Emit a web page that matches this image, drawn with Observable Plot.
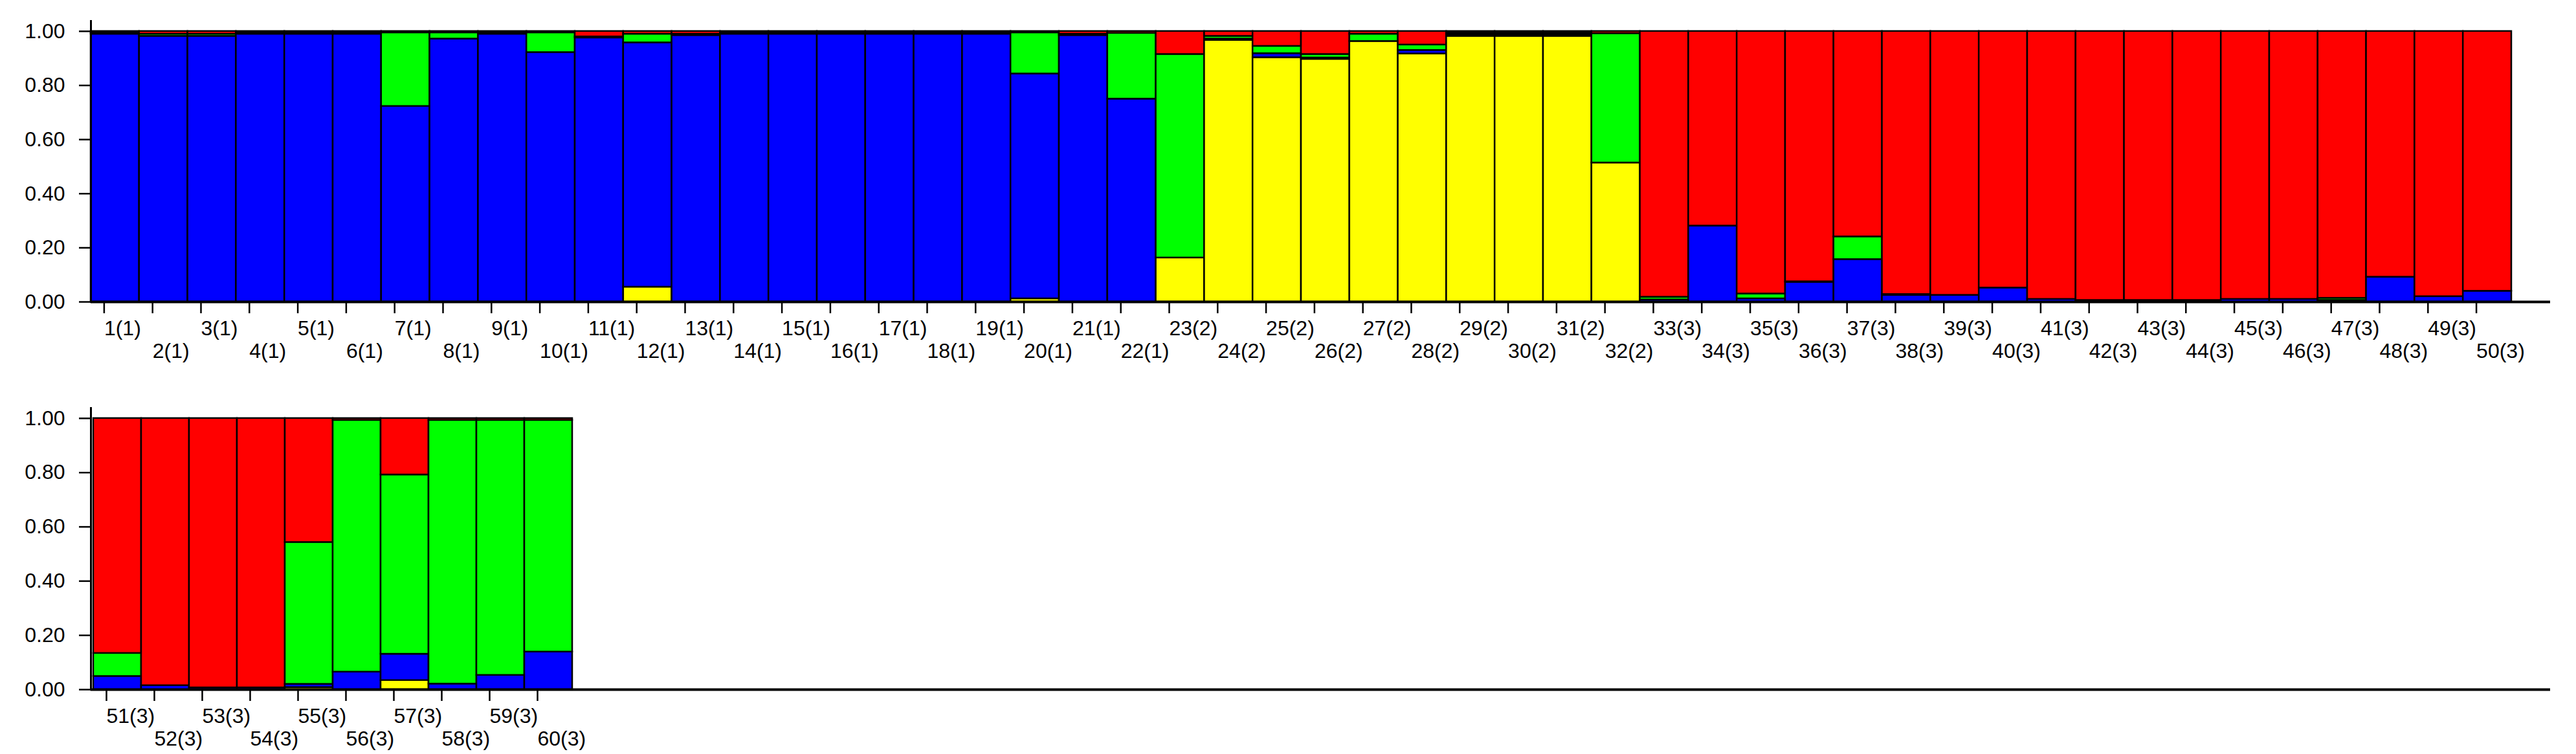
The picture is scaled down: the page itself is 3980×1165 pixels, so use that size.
<!DOCTYPE html>
<html>
<head>
<meta charset="utf-8">
<script src="https://cdn.jsdelivr.net/npm/d3@7"></script>
<script src="https://cdn.jsdelivr.net/npm/@observablehq/plot@0.6"></script>
<style>
html, body { margin: 0; padding: 0; background: #fff; }
#chart { width: 3980px; }
#chart svg { display: block; }
</style>
</head>
<body>
<div id="chart"></div>
<script>
// ---- data ----
const labelsTop = [
  "1(1)","2(1)","3(1)","4(1)","5(1)","6(1)","7(1)","8(1)","9(1)","10(1)",
  "11(1)","12(1)","13(1)","14(1)","15(1)","16(1)","17(1)","18(1)","19(1)","20(1)",
  "21(1)","22(1)","23(2)","24(2)","25(2)","26(2)","27(2)","28(2)","29(2)","30(2)",
  "31(2)","32(2)","33(3)","34(3)","35(3)","36(3)","37(3)","38(3)","39(3)","40(3)",
  "41(3)","42(3)","43(3)","44(3)","45(3)","46(3)","47(3)","48(3)","49(3)","50(3)"
];
const labelsBottom = ["51(3)","52(3)","53(3)","54(3)","55(3)","56(3)","57(3)","58(3)","59(3)","60(3)"];

const clusters = ["K1", "K2", "K3", "K4"];          // stacking order, bottom to top
const clusterColors = ["#ffff00", "#0000ff", "#00ff00", "#ff0000"];

const yellowTop = [
  0,0,0,0,0,0,0,0,0,0,
  0,0.055,0,0,0,0,0,0,0,0.012,
  0,0,0.163,0.967,0.903,0.897,0.963,0.917,0.982,0.982,
  0.982,0.514,0,0,0,0,0,0,0,0,
  0,0,0,0,0,0,0,0,0,0
];
const blueTop = [
  0.99,0.982,0.982,0.99,0.99,0.99,0.723,0.972,0.99,0.922,
  0.976,0.903,0.985,0.99,0.99,0.99,0.99,0.99,0.99,0.831,
  0.985,0.75,0,0.005,0.015,0.005,0,0.013,0.006,0.006,
  0.006,0,0.008,0.281,0.012,0.073,0.157,0.025,0.025,0.052,
  0.01,0.006,0.006,0.006,0.01,0.01,0.006,0.092,0.02,0.04
];
const greenTop = [
  0.005,0.008,0.008,0.005,0.005,0.005,0.272,0.023,0.005,0.073,
  0.004,0.032,0.005,0.005,0.005,0.005,0.005,0.005,0.005,0.152,
  0.005,0.243,0.752,0.01,0.027,0.013,0.027,0.02,0.006,0.006,
  0.006,0.478,0.01,0,0.018,0.002,0.084,0.003,0,0,
  0,0,0,0,0,0,0.008,0,0,0
];
const redTop = [
  0.005,0.01,0.01,0.005,0.005,0.005,0.005,0.005,0.005,0.005,
  0.02,0.01,0.01,0.005,0.005,0.005,0.005,0.005,0.005,0.005,
  0.01,0.007,0.085,0.018,0.055,0.085,0.01,0.05,0.006,0.006,
  0.006,0.008,0.982,0.719,0.97,0.925,0.759,0.972,0.975,0.948,
  0.99,0.994,0.994,0.994,0.99,0.99,0.986,0.908,0.98,0.96
];

const yellowBottom = [0,0,0,0,0.008,0,0.034,0,0,0];
const blueBottom   = [0.049,0.015,0.007,0.007,0.012,0.065,0.097,0.021,0.053,0.139];
const greenBottom  = [0.085,0,0,0,0.523,0.928,0.661,0.972,0.94,0.854];
const redBottom    = [0.866,0.985,0.993,0.993,0.457,0.007,0.208,0.007,0.007,0.007];

const yTicks = [0, 0.2, 0.4, 0.6, 0.8, 1.0];

// ---- build ----
function tidy(labels, series) {
  const rows = [];
  labels.forEach((label, i) => {
    clusters.forEach((c, k) => {
      const v = series[k][i];
      if (v > 0) rows.push({label, cluster: c, value: v});
    });
  });
  return rows;
}

const BAND = 74.8;
const LEFT = 140;
const FONT = "'Liberation Sans', Arial, sans-serif";

function panel(labels, series, height, marginTop, marginBottom) {
  const data = tidy(labels, series);
  const odd = labels.filter((d, i) => i % 2 === 0);
  const even = labels.filter((d, i) => i % 2 === 1);
  return Plot.plot({
    width: 3980,
    height,
    marginLeft: LEFT,
    marginRight: 40,
    marginTop,
    marginBottom,
    style: {fontFamily: FONT, fontSize: "32px", background: "white", color: "black", overflow: "visible"},
    x: {domain: labels, range: [LEFT, LEFT + labels.length * BAND], padding: 0, axis: null, label: null},
    y: {domain: [0, 1.038], axis: null, label: null},
    color: {type: "ordinal", domain: clusters, range: clusterColors},
    marks: [
      Plot.barY(data, {x: "label", y: "value", fill: "cluster", stroke: "black", strokeWidth: 2.5, inset: 0}),
      Plot.frame({anchor: "left", stroke: "black", strokeWidth: 3}),
      Plot.ruleY([0], {stroke: "black", strokeWidth: 4}),
      Plot.axisY({ticks: yTicks, tickFormat: d => d.toFixed(2), tickSize: 18, tickPadding: 22,
                  strokeWidth: 2.5, fontSize: 32, fontFamily: FONT, label: null}),
      Plot.axisX({ticks: odd, tickSize: 18, tickPadding: 11, strokeWidth: 2.5, label: null,
                  textAnchor: "start", dx: -17, fontSize: 32, fontFamily: FONT}),
      Plot.axisX({ticks: even, tickSize: 18, tickPadding: 46, strokeWidth: 2.5, label: null,
                  textAnchor: "start", dx: -17, fontSize: 32, fontFamily: FONT})
    ]
  });
}

const chart = document.getElementById("chart");
chart.append(panel(labelsTop, [yellowTop, blueTop, greenTop, redTop], 590, 32, 124));
chart.append(panel(labelsBottom, [yellowBottom, blueBottom, greenBottom, redBottom], 575, 40, 100));
</script>
</body>
</html>
